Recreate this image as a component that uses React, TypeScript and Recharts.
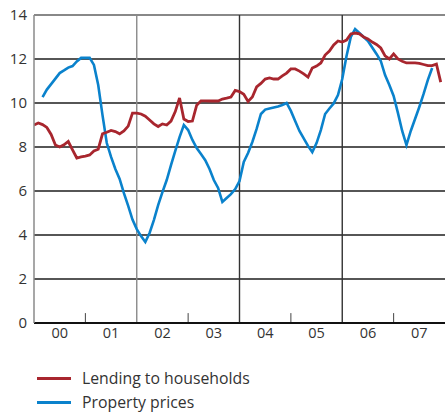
import React from "react";
import { LineChart, Line, XAxis, YAxis, CartesianGrid, ReferenceLine } from "recharts";

const startYear = 2000;
const yearLabels = ["00", "01", "02", "03", "04", "05", "06", "07"];
const yTicks = [0, 2, 4, 6, 8, 10, 12, 14];
const majorLines = [2002, 2004, 2006];
const minorTicks = [2001, 2003, 2005, 2007];

const seriesNames = ["Lending to households", "Property prices"];
const seriesColors = ["#a8262e", "#0a82cc"];

const lending = [
  9.0, 9.09, 9.02, 8.89, 8.57, 8.09, 8.0, 8.1, 8.25, 7.87, 7.5, 7.55,
  7.59, 7.64, 7.82, 7.9, 8.6, 8.67, 8.75, 8.7, 8.6, 8.73, 8.95, 9.54,
  9.54, 9.5, 9.4, 9.23, 9.05, 8.93, 9.05, 9.0, 9.18, 9.61, 10.23, 9.27,
  9.16, 9.18, 9.9, 10.1, 10.1, 10.09, 10.09, 10.09, 10.18, 10.22, 10.27, 10.57,
  10.52, 10.4, 10.07, 10.27, 10.73, 10.89, 11.09, 11.14, 11.09, 11.09, 11.23, 11.36,
  11.55, 11.55, 11.45, 11.32, 11.18, 11.59, 11.68, 11.82, 12.18, 12.36, 12.64, 12.82,
  12.77, 12.86, 13.14, 13.18, 13.14, 13.0, 12.91, 12.77, 12.66, 12.5, 12.14, 12.0,
  12.23, 12.0, 11.9, 11.82, 11.82, 11.82, 11.8, 11.75, 11.7, 11.7, 11.77, 10.95,
];

const property = [
  null, null, 10.27, 10.61, 10.86, 11.11, 11.36, 11.48, 11.61, 11.68, 11.89, 12.05,
  12.05, 12.05, 11.73, 10.82, 9.45, 8.18, 7.55, 7.0, 6.55, 5.9, 5.32, 4.7,
  4.27, 3.95, 3.68, 4.09, 4.68, 5.36, 5.95, 6.5, 7.18, 7.82, 8.45, 9.0,
  8.77, 8.32, 7.95, 7.68, 7.4, 7.0, 6.5, 6.14, 5.5, 5.68, 5.86, 6.09,
  6.45, 7.32, 7.73, 8.23, 8.82, 9.5, 9.7, 9.75, 9.8, 9.84, 9.91, 10.0,
  9.64, 9.18, 8.73, 8.39, 8.05, 7.77, 8.18, 8.77, 9.5, 9.75, 9.98, 10.36,
  11.09, 12.14, 13.0, 13.36, 13.18, 13.0, 12.82, 12.52, 12.23, 11.91, 11.27, 10.82,
  10.32, 9.55, 8.73, 8.09, 8.73, 9.27, 9.82, 10.41, 11.05, 11.59, null, null,
];

const data = lending.map((v, i) => ({
  t: startYear + i / 12,
  lending: v,
  property: property[i],
}));

const labelTicks = yearLabels.map((_, i) => startYear + i + 0.5);
const FONT = "'Open Sans', 'DejaVu Sans', sans-serif";

export default function App() {
  return (
    <div style={{ position: "absolute", left: 0, top: 0, width: 445, height: 412, background: "#fff", fontFamily: FONT }}>
      <LineChart width={445} height={360} data={data} margin={{ top: 15, right: 0, bottom: 7, left: 0 }}>
        <CartesianGrid horizontal vertical={false} stroke="#1e1e1e" strokeWidth={1.6} />
        <XAxis
          dataKey="t"
          type="number"
          domain={[2000, 2008]}
          ticks={labelTicks}
          tickFormatter={(v: number) => yearLabels[Math.floor(v) - startYear]}
          tickLine={false}
          tickSize={0}
          tickMargin={5}
          height={30}
          axisLine={false}
          tick={{ fill: "#333", fontSize: 14.5, fontFamily: FONT }}
          allowDataOverflow
        />
        <YAxis
          domain={[0, 14]}
          ticks={yTicks}
          width={34}
          tickLine={false}
          tickSize={0}
          tickMargin={7}
          axisLine={{ stroke: "#8a8a8a", strokeWidth: 1.5 }}
          tick={{ fill: "#333", fontSize: 15, fontFamily: FONT }}
        />
        <ReferenceLine y={14} stroke="#9a9a9a" strokeWidth={1.6} />
        {majorLines.map((x, i) => (
          <ReferenceLine key={x} x={x} stroke={i === 0 ? "#8a8a8a" : "#333"} strokeWidth={1.4} />
        ))}
        {minorTicks.map((x) => (
          <ReferenceLine key={x} segment={[{ x, y: 0 }, { x, y: 0.45 }]} stroke="#444" strokeWidth={1} />
        ))}
        <ReferenceLine y={0} stroke="#111" strokeWidth={2} />
        <Line type="linear" dataKey="property" stroke={seriesColors[1]} strokeWidth={2.6} dot={false} isAnimationActive={false} connectNulls={false} />
        <Line type="linear" dataKey="lending" stroke={seriesColors[0]} strokeWidth={2.8} dot={false} isAnimationActive={false} />
      </LineChart>
      <div style={{ position: "absolute", left: 37, top: 366, fontSize: 15.8, color: "#333", lineHeight: "24px" }}>
        {seriesNames.map((n, i) => (
          <div key={n} style={{ display: "flex", alignItems: "center" }}>
            <span style={{ display: "inline-block", width: 34, height: 3, background: seriesColors[i], marginRight: 11 }} />
            <span>{n}</span>
          </div>
        ))}
      </div>
    </div>
  );
}
